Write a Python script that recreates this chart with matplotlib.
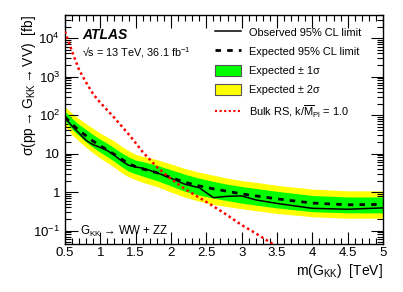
import numpy as np
import matplotlib
matplotlib.use("Agg")
import matplotlib.pyplot as plt
from matplotlib.lines import Line2D
from matplotlib.patches import Patch
from matplotlib.ticker import FixedLocator, FuncFormatter, MultipleLocator, LogLocator, NullFormatter

plt.rcParams['font.family'] = ['Liberation Sans', 'DejaVu Sans']
plt.rcParams['mathtext.fontset'] = 'custom'
plt.rcParams['mathtext.rm'] = 'Liberation Sans'
plt.rcParams['mathtext.it'] = 'Liberation Sans:italic'
plt.rcParams['mathtext.bf'] = 'Liberation Sans:bold'
plt.rcParams['mathtext.fallback'] = 'stixsans'

# ---- data ----
mass = [0.5, 0.6, 0.7, 0.8, 0.9, 1.0, 1.1, 1.2, 1.3, 1.4, 1.5, 1.6, 1.8, 2.0,
        2.2, 2.4, 2.6, 2.8, 3.0, 3.2, 3.5, 4.0, 4.5, 5.0]
observed = [85, 52, 34, 22, 17, 14.5, 12, 9, 6.5, 5.0, 4.5, 4.2, 3.2, 2.3,
            1.6, 1.3, 0.72, 0.78, 0.80, 0.63, 0.51, 0.38, 0.36, 0.39]
expected = [90, 58, 40, 29, 21, 16, 12.5, 9.5, 7.2, 5.5, 4.6, 4.0, 3.2, 2.4,
            1.8, 1.45, 1.22, 1.05, 0.9, 0.8, 0.67, 0.52, 0.47, 0.48]
exp_p1 = [125, 82, 57, 42, 31, 23.5, 18.5, 14, 10.5, 8.2, 6.8, 6.2, 5.0, 3.8,
          2.9, 2.3, 1.9, 1.6, 1.4, 1.25, 1.05, 0.82, 0.75, 0.75]
exp_m1 = [72, 43, 29, 20, 14.5, 10.8, 8.3, 6.3, 4.6, 3.5, 3.0, 2.6, 2.0, 1.45,
          1.05, 0.84, 0.70, 0.6, 0.52, 0.46, 0.39, 0.31, 0.29, 0.29]
exp_p2 = [165, 112, 80, 60, 45, 34, 27, 21, 15.5, 12, 9.5, 8.6, 7.0, 5.4,
          4.1, 3.3, 2.75, 2.3, 2.0, 1.8, 1.5, 1.2, 1.08, 1.08]
exp_m2 = [54, 31, 21, 14.5, 10.3, 7.6, 5.8, 4.4, 3.2, 2.5, 2.1, 1.8, 1.4, 1.0,
          0.74, 0.58, 0.48, 0.42, 0.37, 0.33, 0.28, 0.23, 0.21, 0.21]

rs_mass = [0.5, 0.6, 0.7, 0.8, 0.9, 1.0, 1.2, 1.4, 1.5, 1.6, 1.8, 2.0, 2.2,
           2.4, 2.6, 2.8, 3.0, 3.2, 3.4, 3.6]
rs_xsec = [15000, 4500, 1500, 700, 350, 210, 85, 32, 19, 11, 4.5, 2.2, 1.2,
           0.72, 0.43, 0.25, 0.14, 0.085, 0.05, 0.03]

xticks = [0.5, 1, 1.5, 2, 2.5, 3, 3.5, 4, 4.5, 5]
yticks = [0.1, 1, 10, 100, 1000, 10000]

fig = plt.figure(figsize=(4.03, 2.92), dpi=100)
ax = fig.add_axes([65/403, 1-244/292, 318/403, 229/292])

ax.fill_between(mass, exp_m2, exp_p2, color='#ffff00', lw=0, zorder=1)
ax.fill_between(mass, exp_m1, exp_p1, color='#00ff00', lw=0, zorder=2)
ax.plot(mass, expected, color='black', lw=2, ls=(0, (2, 2.2)), zorder=3)
ax.plot(mass, observed, color='black', lw=1.1, zorder=4)
ax.plot(rs_mass, rs_xsec, color='#ff0000', lw=1.8, ls=(0, (1, 1.2)), zorder=5)

ax.set_yscale('log')
ax.set_xlim(0.5, 5)
ax.set_ylim(0.045, 40000)

ax.xaxis.set_major_locator(FixedLocator(xticks))
ax.xaxis.set_minor_locator(MultipleLocator(0.1))
ax.xaxis.set_major_formatter(FuncFormatter(lambda v, p: '%g' % v))
ax.yaxis.set_major_locator(FixedLocator(yticks))
ax.yaxis.set_minor_locator(LogLocator(base=10, subs=np.arange(2, 10)))
ax.yaxis.set_minor_formatter(NullFormatter())

def yfmt(v, p):
    e = int(round(np.log10(v)))
    if e == 0:
        return '1'
    if e == 1:
        return '10'
    return r'$\mathregular{10^{%d}}$' % e
ax.yaxis.set_major_formatter(FuncFormatter(yfmt))

ax.tick_params(which='both', direction='in', top=True, right=True, labelsize=9.5, width=0.8)
ax.tick_params(which='major', length=9)
ax.tick_params(which='minor', length=4.5)
ax.tick_params(axis='x', pad=2)
for s in ax.spines.values():
    s.set_linewidth(1.0)

ax.set_ylabel(r'$\mathregular{\sigma(pp \rightarrow G_{KK} \rightarrow VV)\ \ [fb]}$',
              fontsize=10, loc='top')
ax.yaxis.set_label_coords(-0.085, 1.0)
ax.set_xlabel(r'$\mathregular{m(G_{KK})\ \ [TeV]}$', fontsize=10, loc='right')
ax.xaxis.set_label_coords(1.0, -0.078)

ax.text(0.053, 0.895, 'ATLAS', transform=ax.transAxes, fontsize=10,
        fontweight='bold', fontstyle='italic')
ax.text(0.053, 0.82, r'√s = 13 TeV, 36.1 fb$^{\mathregular{-1}}$', transform=ax.transAxes,
        fontsize=7.8)
ax.text(0.048, 0.04, r'G$_{\mathregular{KK}}$ → WW + ZZ', transform=ax.transAxes,
        fontsize=8.3)

handles = [
    Line2D([], [], color='black', lw=1.1),
    Line2D([], [], color='black', lw=2, ls=(0, (2, 2.2))),
    Patch(facecolor='#00ff00', edgecolor='#555555', lw=0.8),
    Patch(facecolor='#ffff00', edgecolor='#555555', lw=0.8),
    Line2D([], [], color='#ff0000', lw=1.5, ls=(0, (1, 1.2))),
]
labels = ['Observed 95% CL limit', 'Expected 95% CL limit', 'Expected ± 1σ',
          'Expected ± 2σ', r'Bulk RS, k/$\mathregular{\overline{M}_{Pl}}$ = 1.0']
ax.legend(handles, labels, loc='upper left', bbox_to_anchor=(0.472, 0.95),
          frameon=False, fontsize=7.9, handlelength=2.4, handleheight=1.2,
          handletextpad=0.7, labelspacing=0.72, borderpad=0, borderaxespad=0)

fig.savefig('out.png', dpi=100)
